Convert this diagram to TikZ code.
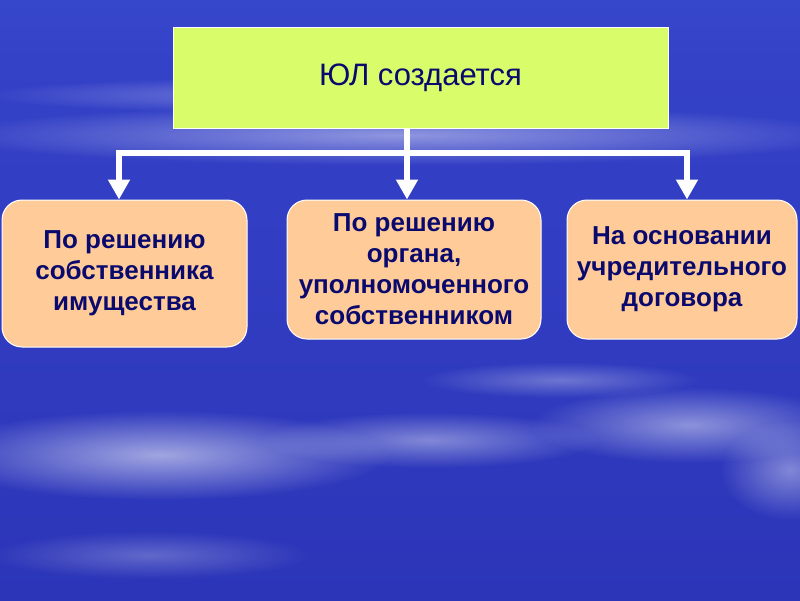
\documentclass[tikz,border=0pt]{standalone}
\usepackage{fontspec}
\setmainfont{Liberation Sans}
\usetikzlibrary{arrows.meta,fadings}
\definecolor{topgreen}{HTML}{D8FC6A}
\definecolor{peach}{HTML}{FFCC99}
\definecolor{navytext}{HTML}{0A0A6E}
\definecolor{bgA}{HTML}{2A30C8}
\definecolor{bgB}{HTML}{5070DC}
\definecolor{bgC}{HTML}{3442C8}
\definecolor{bgD}{HTML}{2428A8}
\definecolor{bgE}{HTML}{1C1F8A}
\pgfdeclareverticalshading{sky}{800bp}{
  color(0bp)=(bgE); color(150bp)=(bgD); color(330bp)=(bgD); color(420bp)=(bgC);
  color(470bp)=(bgB); color(530bp)=(bgA); color(800bp)=(bgA)}
\tikzfading[name=softcloud, inner color=transparent!0, outer color=transparent!100]
\tikzset{
  topbox/.style={draw=white, line width=1pt, fill=topgreen, minimum width=495pt, minimum height=101pt, inner sep=0pt, text=navytext, font=\fontsize{31}{36}\selectfont},
  subbox/.style={draw=white, line width=1pt, fill=peach, rounded corners=20pt, inner sep=0pt, text=navytext, align=center, font=\bfseries\fontsize{26}{31}\selectfont},
  conn/.style={draw=white, line width=6pt},
  arr/.style={-{Triangle[width=21pt,length=20pt]}, draw=white, line width=6pt},
  cloud/.style={fill=white, path fading=softcloud}
}
\begin{document}
\begin{tikzpicture}[x=1pt,y=-1pt]
\useasboundingbox (0,0) rectangle (800,600);
\shade[shading=sky] (0,0) rectangle (800,600);
% clouds
\fill[cloud, fill opacity=0.45] (400,135) ellipse (460 and 30);
\fill[cloud, fill opacity=0.30] (300,95) ellipse (320 and 18);
\fill[cloud, fill opacity=0.55] (160,455) ellipse (230 and 45);
\fill[cloud, fill opacity=0.40] (430,440) ellipse (170 and 28);
\fill[cloud, fill opacity=0.45] (690,425) ellipse (160 and 38);
\fill[cloud, fill opacity=0.30] (560,380) ellipse (140 and 18);
\fill[cloud, fill opacity=0.40] (790,470) ellipse (70 and 50);
\fill[cloud, fill opacity=0.25] (150,555) ellipse (160 and 24);
% boxes
\node[topbox] (top) at (420.5,77.5) {ЮЛ создается};
\node[subbox, minimum width=245pt, minimum height=147pt] (b1) at (124.5,273.5) {По решению\\собственника\\имущества};
\node[subbox, minimum width=254pt, minimum height=139pt] (b2) at (414,269.5) {По решению\\органа,\\уполномоченного\\собственником};
\node[subbox, minimum width=230pt, minimum height=139pt] (b3) at (682,269.5) {На основании\\учредительного\\договора};
% connectors
\coordinate (j) at (407,153);
\coordinate (jl) at (119,153);
\coordinate (jr) at (687,153);
\draw[conn] (407,128) -- (j);
\draw[conn] ([xshift=-3pt]jl) -- ([xshift=3pt]jr);
\draw[arr] (jl) -- (jl |- b1.north);
\draw[arr] (j) -- (j |- b2.north);
\draw[arr] (jr) -- (jr |- b3.north);
\end{tikzpicture}
\end{document}
